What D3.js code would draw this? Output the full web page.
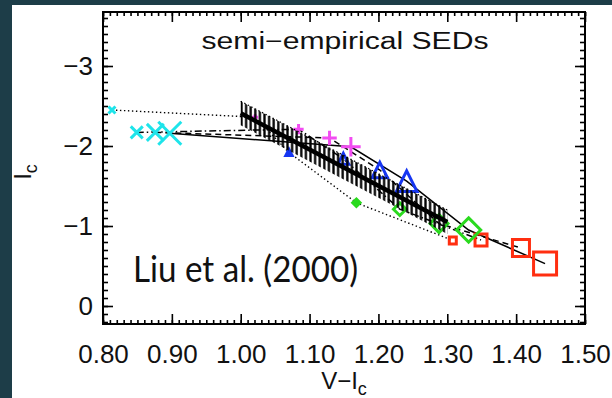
<!DOCTYPE html>
<html>
<head>
<meta charset="utf-8">
<script src="https://cdn.jsdelivr.net/npm/d3@7"></script>
<style>
  html, body { margin: 0; padding: 0; background: #1d3d48; }
  svg { display: block; }
</style>
</head>
<body>
<svg id="chart" width="612" height="398"></svg>
<script>
// V-Ic and Ic for each symbol size (smallest -> largest), one point per colour
const viTiny  = [0.813, 1.021, 1.070, 1.168, 1.308];
const icTiny  = [-2.45, -2.36, -1.92, -1.29, -0.82];
const viSmall = [0.849, 1.084, 1.149, 1.231, 1.349];
const icSmall = [-2.17, -2.21, -1.84, -1.21, -0.825];
const viMed   = [0.876, 1.129, 1.202, 1.288, 1.407];
const icMed   = [-2.17, -2.10, -1.70, -1.03, -0.725];
const viLarge = [0.897, 1.160, 1.241, 1.331, 1.442];
const icLarge = [-2.16, -1.99, -1.56, -0.95, -0.53];

// Liu et al. (2000) relation, with its hatched band
const fitVI = [1.00, 1.30];
const fitIc = [-2.41, -1.05];
const bandHalf = 0.15;

const xTicks = [0.80, 0.90, 1.00, 1.10, 1.20, 1.30, 1.40, 1.50];
const yTicks = [0, -1, -2, -3];

const colors = ['#1ee4ea', '#f24cf2', '#1636f2', '#2ada1e', '#ff2e10'];
const shapes = ['x', 'plus', 'triangle', 'diamond', 'square'];

const svg = d3.select('#chart');

// slide background + white panel
svg.append('rect').attr('width', 612).attr('height', 398).attr('fill', '#1d3d48');
svg.append('rect').attr('x', 12).attr('y', 5).attr('width', 600).attr('height', 393).attr('fill', '#fff');

const x = d3.scaleLinear().domain([0.8, 1.5]).range([103, 585]);
const y = d3.scaleLinear().domain([0.225, -3.675]).range([324, 12]);

const [x0, x1] = x.range();
const [yb, yt] = y.range();

// axes, ticks pointing inward on all four sides
const xMinor = d3.range(80, 151).map(d => d / 100);
const yMinor = d3.range(-36, 3).map(d => d / 10);

function drawAxis(axis, tx, ty) {
    const g = svg.append('g').attr('transform', `translate(${tx},${ty})`).call(axis);
    g.select('.domain').remove();
    g.selectAll('line').attr('stroke', '#000').attr('stroke-width', 1.6);
    return g;
}

const fmtX = d3.format('.2f');
const bottom = drawAxis(d3.axisBottom(x).tickValues(xTicks).tickSize(-10).tickPadding(21).tickFormat(fmtX), 0, yb);
drawAxis(d3.axisBottom(x).tickValues(xMinor).tickSize(-4).tickFormat(''), 0, yb);
drawAxis(d3.axisTop(x).tickValues(xTicks).tickSize(-10).tickFormat(''), 0, yt);
drawAxis(d3.axisTop(x).tickValues(xMinor).tickSize(-4).tickFormat(''), 0, yt);
const left = drawAxis(d3.axisLeft(y).tickValues(yTicks).tickSize(-10).tickPadding(10).tickFormat(d3.format('d')), x0, 0);
drawAxis(d3.axisLeft(y).tickValues(yMinor).tickSize(-5).tickFormat(''), x0, 0);
drawAxis(d3.axisRight(y).tickValues(yTicks).tickSize(-10).tickFormat(''), x1, 0);
drawAxis(d3.axisRight(y).tickValues(yMinor).tickSize(-5).tickFormat(''), x1, 0);

[bottom, left].forEach(g => g.selectAll('text')
    .attr('font-family', 'Liberation Sans, Arial, sans-serif')
    .attr('font-size', 26)
    .attr('fill', '#111'));

// hatch pattern for the band
const defs = svg.append('defs');
const pat = defs.append('pattern')
    .attr('id', 'hatch')
    .attr('patternUnits', 'userSpaceOnUse')
    .attr('width', 4.6).attr('height', 20);
pat.append('line')
    .attr('x1', 2.3).attr('x2', 2.3).attr('y1', 0).attr('y2', 20)
    .attr('stroke', '#000').attr('stroke-width', 2.3);

// series lines
const seriesVI = [viTiny, viSmall, viMed, viLarge];
const seriesIc = [icTiny, icSmall, icMed, icLarge];
const dashes = ['1.4,2.6', '7,3,1.5,3', '6,4', null];
const halfSizes = [3.5, 6, 8.5, 11.5];
const shapeScale = { x: 1.0, plus: 0.85, triangle: 0.9, diamond: 1.05, square: 1.0 };

const line = d3.line().x(d => x(d[0])).y(d => y(d[1]));

seriesVI.forEach((vi, k) => {
    const pts = vi.map((v, i) => [v, seriesIc[k][i]]);
    svg.append('path')
        .attr('d', line(pts))
        .attr('fill', 'none')
        .attr('stroke', '#000')
        .attr('stroke-width', k === 0 ? 1.4 : 1.5)
        .attr('stroke-dasharray', dashes[k]);
});

function symbolPath(shape, s) {
    switch (shape) {
        case 'x': return `M${-s},${-s}L${s},${s}M${-s},${s}L${s},${-s}`;
        case 'plus': return `M${-s},0L${s},0M0,${-s}L0,${s}`;
        case 'triangle': return `M${-s},${s}L0,${-s}L${s},${s}Z`;
        case 'diamond': return `M0,${-s}L${s},0L0,${s}L${-s},0Z`;
        default: return `M${-s},${-s}H${s}V${s}H${-s}Z`;
    }
}

// symbols
seriesVI.forEach((vi, k) => {
    svg.append('g').selectAll('path')
        .data(vi.map((v, i) => ({ v, ic: seriesIc[k][i], i })))
        .enter().append('path')
        .attr('transform', d => `translate(${x(d.v)},${y(d.ic)})`)
        .attr('d', d => symbolPath(shapes[d.i], halfSizes[k] * shapeScale[shapes[d.i]]))
        .attr('fill', d => (k === 0 && shapes[d.i] !== 'square') ? colors[d.i] : 'none')
        .attr('stroke', d => colors[d.i])
        .attr('stroke-width', 3)
        .attr('stroke-linejoin', 'miter');
});

// hatched band around the fit
const bandPts = [
    [fitVI[0], fitIc[0] - bandHalf], [fitVI[1], fitIc[1] - bandHalf],
    [fitVI[1], fitIc[1] + bandHalf], [fitVI[0], fitIc[0] + bandHalf]
];
svg.append('path')
    .attr('d', line(bandPts) + 'Z')
    .attr('fill', 'url(#hatch)');
svg.append('path')
    .attr('d', line(bandPts.slice(0, 2)))
    .attr('fill', 'none')
    .attr('stroke', '#000')
    .attr('stroke-width', 1.2)
    .attr('stroke-dasharray', '1.4,2.6');

// thick fit line
svg.append('path')
    .attr('d', line(fitVI.map((v, i) => [v, fitIc[i]])))
    .attr('stroke', '#000')
    .attr('stroke-width', 4.5)
    .attr('fill', 'none');

// frame
svg.append('rect')
    .attr('x', x0).attr('y', yt)
    .attr('width', x1 - x0).attr('height', yb - yt)
    .attr('fill', 'none').attr('stroke', '#000').attr('stroke-width', 2);

// title and annotation
svg.append('text')
    .attr('x', (x0 + x1) / 2 + 1).attr('y', 49)
    .attr('text-anchor', 'middle')
    .attr('font-family', 'Liberation Sans, Arial, sans-serif')
    .attr('font-size', 23)
    .attr('textLength', 287)
    .attr('lengthAdjust', 'spacingAndGlyphs')
    .attr('fill', '#111')
    .text('semi\u2212empirical SEDs');

svg.append('text')
    .attr('x', 133).attr('y', 282)
    .attr('font-family', 'Lato, Open Sans, sans-serif')
    .attr('font-size', 37)
    .attr('textLength', 225)
    .attr('lengthAdjust', 'spacingAndGlyphs')
    .attr('fill', '#111')
    .text('Liu et al. (2000)');

// axis titles
const xt = svg.append('text')
    .attr('x', (x0 + x1) / 2).attr('y', 389)
    .attr('text-anchor', 'middle')
    .attr('font-family', 'Liberation Sans, Arial, sans-serif')
    .attr('font-size', 24)
    .attr('fill', '#111');
xt.append('tspan').text('V\u2212I');
xt.append('tspan').attr('font-size', 18).attr('dy', 6).text('c');

const yl = svg.append('text')
    .attr('transform', `translate(31,172) rotate(-90)`)
    .attr('text-anchor', 'middle')
    .attr('font-family', 'Liberation Sans, Arial, sans-serif')
    .attr('font-size', 24)
    .attr('fill', '#111');
yl.append('tspan').text('I');
yl.append('tspan').attr('font-size', 18).attr('dy', 6).text('c');
</script>
</body>
</html>
